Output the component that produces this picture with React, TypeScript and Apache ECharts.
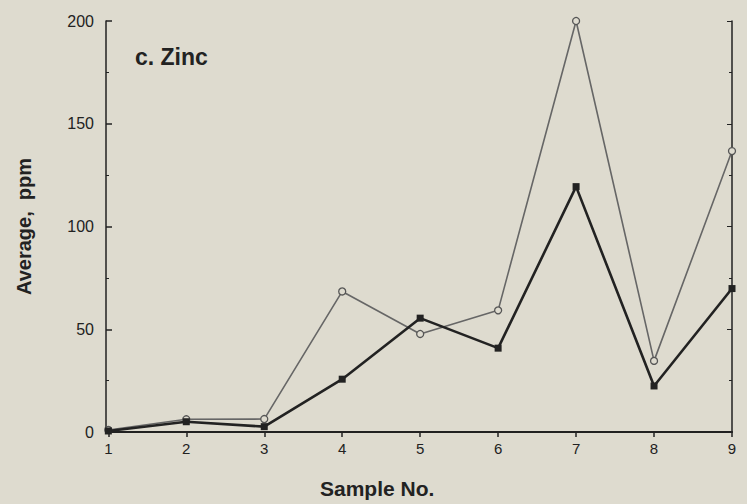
import React, { useEffect, useRef } from "react";
import * as echarts from "echarts";

const sampleNos = [1, 2, 3, 4, 5, 6, 7, 8, 9];
const squareSeries = [0.5, 5, 2.6, 25.7, 55.4, 40.8, 119.4, 22.4, 69.8];
const circleSeries = [1, 6.2, 6.3, 68.4, 47.7, 59.2, 200, 34.6, 136.7];
const yTicks = [0, 50, 100, 150, 200];

const BG = "#dedbcf";
const FONT = "'Liberation Sans', Arial, Helvetica, sans-serif";

export default function App() {
  const ref = useRef<HTMLDivElement>(null);
  useEffect(() => {
    document.body.style.margin = "0";
    document.body.style.background = BG;
    const chart = echarts.init(ref.current!, null, { renderer: "svg" });
    const pairs = (vals: number[]) => vals.map((v, i) => [sampleNos[i], v]);
    chart.setOption({
      animation: false,
      backgroundColor: BG,
      textStyle: { fontFamily: FONT },
      title: {
        text: "c. Zinc",
        left: 135,
        top: 45,
        padding: 0,
        textStyle: { fontSize: 23, fontWeight: "bold", color: "#222", fontFamily: FONT },
      },
      graphic: [
        {
          type: "text",
          left: 320,
          top: 478,
          style: {
            text: "Sample No.",
            fontSize: 21,
            fontWeight: "bold",
            fill: "#222",
            fontFamily: FONT,
          },
        },
      ],
      grid: { left: 106, right: 15, top: 21, bottom: 72 },
      xAxis: [
        {
          type: "value",
          min: 0.97,
          max: 9,
          position: "bottom",
          splitLine: { show: false },
          axisLine: { show: true, lineStyle: { color: "#222", width: 2 } },
          axisTick: {
            show: true,
            inside: false,
            length: 5,
            customValues: sampleNos,
            lineStyle: { color: "#222", width: 1.5 },
          },
          axisLabel: {
            customValues: sampleNos,
            margin: 9,
            fontSize: 15,
            color: "#222",
            fontFamily: FONT,
          },
        },
        {
          type: "value",
          min: 0.97,
          max: 9,
          position: "top",
          splitLine: { show: false },
          axisLine: { show: true, lineStyle: { color: "#222", width: 1.5 } },
          axisTick: { show: false },
          axisLabel: { show: false },
        },
      ],
      yAxis: [
        {
          type: "value",
          min: yTicks[0],
          max: yTicks[yTicks.length - 1],
          interval: 50,
          position: "left",
          splitLine: { show: false },
          axisLine: { show: true, lineStyle: { color: "#222", width: 1.5 } },
          axisTick: { show: true, inside: true, length: 6, lineStyle: { color: "#222", width: 1.5 } },
          minorTick: { show: true, splitNumber: 2, length: 3, lineStyle: { color: "#222", width: 1 } },
          axisLabel: { margin: 12, fontSize: 16, color: "#222", fontFamily: FONT },
          name: "Average,  ppm",
          nameLocation: "middle",
          nameGap: 72,
          nameTextStyle: { fontSize: 20, fontWeight: "bold", color: "#222", fontFamily: FONT },
        },
        {
          type: "value",
          min: yTicks[0],
          max: yTicks[yTicks.length - 1],
          interval: 50,
          position: "right",
          splitLine: { show: false },
          axisLine: { show: true, lineStyle: { color: "#222", width: 1.5 } },
          axisTick: { show: true, inside: true, length: 5, lineStyle: { color: "#222", width: 1 } },
          minorTick: { show: true, splitNumber: 2, length: 3, lineStyle: { color: "#222", width: 1 } },
          axisLabel: { show: false },
        },
      ],
      series: [
        {
          type: "line",
          data: pairs(circleSeries),
          clip: false,
          symbol: "circle",
          symbolSize: 7,
          lineStyle: { color: "#666", width: 1.6 },
          itemStyle: { color: BG, borderColor: "#555", borderWidth: 1.3 },
          z: 2,
        },
        {
          type: "line",
          data: pairs(squareSeries),
          clip: false,
          symbol: "rect",
          symbolSize: 7,
          lineStyle: { color: "#222", width: 2.6 },
          itemStyle: { color: "#222", borderColor: "#222", borderWidth: 0 },
          z: 3,
        },
      ],
    });
    return () => chart.dispose();
  }, []);
  return (
    <div
      ref={ref}
      style={{ position: "absolute", left: 0, top: 0, width: 747, height: 504, background: BG }}
    />
  );
}
